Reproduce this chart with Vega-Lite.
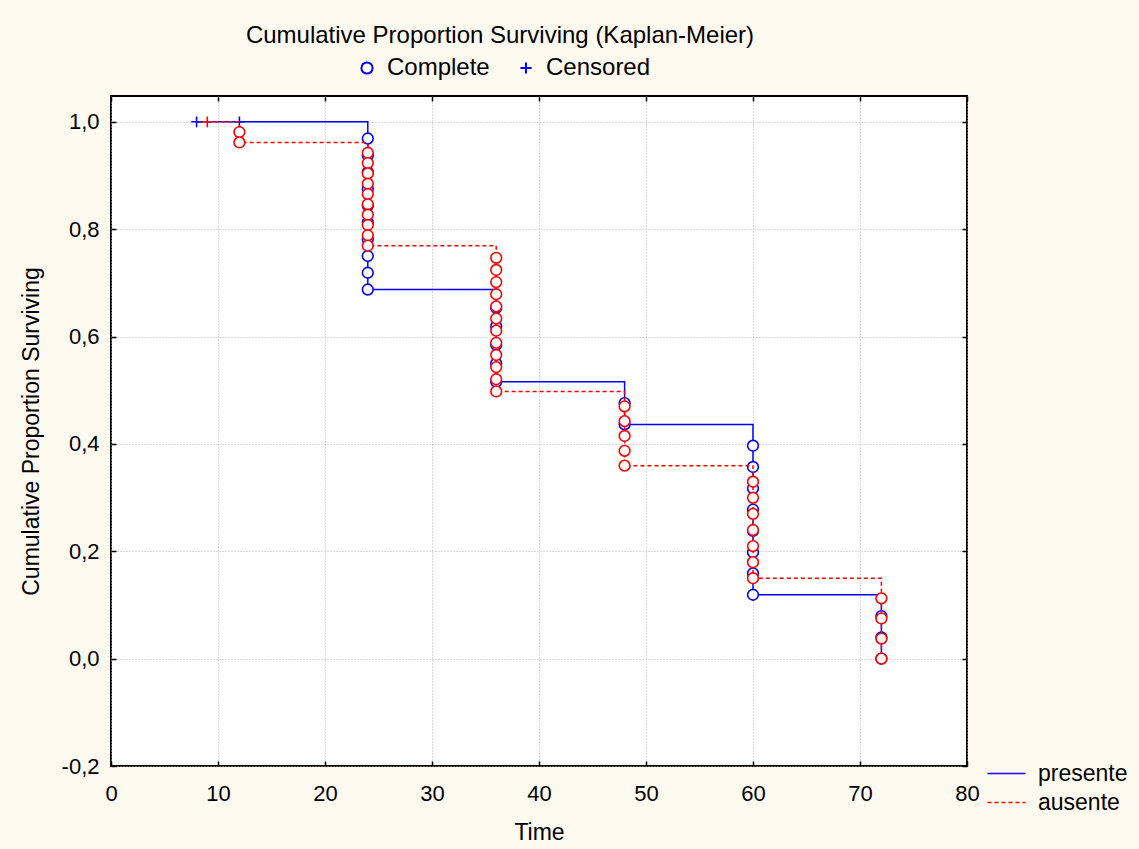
{
  "$schema": "https://vega.github.io/schema/vega-lite/v6.json",
  "width": 856,
  "height": 670,
  "autosize": {"type": "none"},
  "padding": {"left": 111, "top": 96, "right": 172, "bottom": 83},
  "background": "#FFFAF0",
  "config": {
    "font": "Liberation Sans",
    "view": {"fill": "white", "stroke": "black", "strokeWidth": 2},
    "axis": {
      "labelFont": "Liberation Sans",
      "labelFontSize": 22,
      "labelColor": "black",
      "titleFont": "Liberation Sans",
      "titleFontSize": 23,
      "titleFontWeight": "normal",
      "titleColor": "black",
      "tickColor": "black",
      "tickWidth": 1.5,
      "domain": false,
      "gridColor": "#b4b4b4",
      "gridDash": [1, 2],
      "gridWidth": 1
    },
    "legend": {
      "labelFont": "Liberation Sans",
      "labelFontSize": 23,
      "labelColor": "black",
      "padding": 0
    }
  },
  "title": {
    "text": "Cumulative Proportion Surviving (Kaplan-Meier)",
    "font": "Liberation Sans",
    "fontSize": 24,
    "fontWeight": "normal",
    "color": "black",
    "anchor": "middle",
    "frame": "group",
    "dx": -39,
    "offset": 8
  },
  "datasets": {
    "curve": [
      {"group": "presente", "time": 8, "surv": 1},
      {"group": "presente", "time": 24, "surv": 0.6875},
      {"group": "presente", "time": 36, "surv": 0.5156},
      {"group": "presente", "time": 48, "surv": 0.4363},
      {"group": "presente", "time": 60, "surv": 0.119},
      {"group": "presente", "time": 72, "surv": 0},
      {"group": "ausente", "time": 9, "surv": 1},
      {"group": "ausente", "time": 12, "surv": 0.9615},
      {"group": "ausente", "time": 24, "surv": 0.7692},
      {"group": "ausente", "time": 36, "surv": 0.4977},
      {"group": "ausente", "time": 48, "surv": 0.3595},
      {"group": "ausente", "time": 60, "surv": 0.1498},
      {"group": "ausente", "time": 72, "surv": 0}
    ],
    "events": [
      {"group": "presente", "status": "Censored", "time": 8, "surv": 1},
      {"group": "presente", "status": "Censored", "time": 12, "surv": 1},
      {"group": "presente", "status": "Complete", "time": 24, "surv": 0.9688},
      {"group": "presente", "status": "Complete", "time": 24, "surv": 0.9375},
      {"group": "presente", "status": "Complete", "time": 24, "surv": 0.9063},
      {"group": "presente", "status": "Complete", "time": 24, "surv": 0.875},
      {"group": "presente", "status": "Complete", "time": 24, "surv": 0.8438},
      {"group": "presente", "status": "Complete", "time": 24, "surv": 0.8125},
      {"group": "presente", "status": "Complete", "time": 24, "surv": 0.7813},
      {"group": "presente", "status": "Complete", "time": 24, "surv": 0.75},
      {"group": "presente", "status": "Complete", "time": 24, "surv": 0.7188},
      {"group": "presente", "status": "Complete", "time": 24, "surv": 0.6875},
      {"group": "presente", "status": "Complete", "time": 36, "surv": 0.6531},
      {"group": "presente", "status": "Complete", "time": 36, "surv": 0.6188},
      {"group": "presente", "status": "Complete", "time": 36, "surv": 0.5844},
      {"group": "presente", "status": "Complete", "time": 36, "surv": 0.55},
      {"group": "presente", "status": "Complete", "time": 36, "surv": 0.5156},
      {"group": "presente", "status": "Complete", "time": 48, "surv": 0.476},
      {"group": "presente", "status": "Complete", "time": 48, "surv": 0.4363},
      {"group": "presente", "status": "Complete", "time": 60, "surv": 0.3966},
      {"group": "presente", "status": "Complete", "time": 60, "surv": 0.357},
      {"group": "presente", "status": "Complete", "time": 60, "surv": 0.3173},
      {"group": "presente", "status": "Complete", "time": 60, "surv": 0.2776},
      {"group": "presente", "status": "Complete", "time": 60, "surv": 0.238},
      {"group": "presente", "status": "Complete", "time": 60, "surv": 0.1983},
      {"group": "presente", "status": "Complete", "time": 60, "surv": 0.1587},
      {"group": "presente", "status": "Complete", "time": 60, "surv": 0.119},
      {"group": "presente", "status": "Complete", "time": 72, "surv": 0.0793},
      {"group": "presente", "status": "Complete", "time": 72, "surv": 0.0397},
      {"group": "presente", "status": "Complete", "time": 72, "surv": 0},
      {"group": "ausente", "status": "Censored", "time": 9, "surv": 1},
      {"group": "ausente", "status": "Complete", "time": 12, "surv": 0.9808},
      {"group": "ausente", "status": "Complete", "time": 12, "surv": 0.9615},
      {"group": "ausente", "status": "Complete", "time": 24, "surv": 0.9423},
      {"group": "ausente", "status": "Complete", "time": 24, "surv": 0.9231},
      {"group": "ausente", "status": "Complete", "time": 24, "surv": 0.9038},
      {"group": "ausente", "status": "Complete", "time": 24, "surv": 0.8846},
      {"group": "ausente", "status": "Complete", "time": 24, "surv": 0.8654},
      {"group": "ausente", "status": "Complete", "time": 24, "surv": 0.8462},
      {"group": "ausente", "status": "Complete", "time": 24, "surv": 0.8269},
      {"group": "ausente", "status": "Complete", "time": 24, "surv": 0.8077},
      {"group": "ausente", "status": "Complete", "time": 24, "surv": 0.7885},
      {"group": "ausente", "status": "Complete", "time": 24, "surv": 0.7692},
      {"group": "ausente", "status": "Complete", "time": 36, "surv": 0.7466},
      {"group": "ausente", "status": "Complete", "time": 36, "surv": 0.724},
      {"group": "ausente", "status": "Complete", "time": 36, "surv": 0.7014},
      {"group": "ausente", "status": "Complete", "time": 36, "surv": 0.6787},
      {"group": "ausente", "status": "Complete", "time": 36, "surv": 0.6561},
      {"group": "ausente", "status": "Complete", "time": 36, "surv": 0.6335},
      {"group": "ausente", "status": "Complete", "time": 36, "surv": 0.6109},
      {"group": "ausente", "status": "Complete", "time": 36, "surv": 0.5882},
      {"group": "ausente", "status": "Complete", "time": 36, "surv": 0.5656},
      {"group": "ausente", "status": "Complete", "time": 36, "surv": 0.543},
      {"group": "ausente", "status": "Complete", "time": 36, "surv": 0.5204},
      {"group": "ausente", "status": "Complete", "time": 36, "surv": 0.4977},
      {"group": "ausente", "status": "Complete", "time": 48, "surv": 0.47},
      {"group": "ausente", "status": "Complete", "time": 48, "surv": 0.4424},
      {"group": "ausente", "status": "Complete", "time": 48, "surv": 0.4148},
      {"group": "ausente", "status": "Complete", "time": 48, "surv": 0.3871},
      {"group": "ausente", "status": "Complete", "time": 48, "surv": 0.3595},
      {"group": "ausente", "status": "Complete", "time": 60, "surv": 0.3295},
      {"group": "ausente", "status": "Complete", "time": 60, "surv": 0.2996},
      {"group": "ausente", "status": "Complete", "time": 60, "surv": 0.2696},
      {"group": "ausente", "status": "Complete", "time": 60, "surv": 0.2396},
      {"group": "ausente", "status": "Complete", "time": 60, "surv": 0.2097},
      {"group": "ausente", "status": "Complete", "time": 60, "surv": 0.1797},
      {"group": "ausente", "status": "Complete", "time": 60, "surv": 0.1498},
      {"group": "ausente", "status": "Complete", "time": 72, "surv": 0.1123},
      {"group": "ausente", "status": "Complete", "time": 72, "surv": 0.0749},
      {"group": "ausente", "status": "Complete", "time": 72, "surv": 0.0374},
      {"group": "ausente", "status": "Complete", "time": 72, "surv": 0}
    ]
  },
  "layer": [
    {
      "data": {"name": "curve"},
      "transform": [{"filter": "datum.group === 'presente'"}],
      "mark": {"type": "line", "interpolate": "step-after", "strokeWidth": 1.5, "clip": true},
      "encoding": {
        "x": {"field": "time", "type": "quantitative",
          "scale": {"domain": [0, 80], "nice": false, "zero": false},
          "axis": {"orient": "bottom", "title": "Time", "values": [0, 10, 20, 30, 40, 50, 60, 70, 80],
            "tickSize": -5, "labelPadding": 22, "grid": true, "titlePadding": 17, "labelFlush": false}},
        "y": {"field": "surv", "type": "quantitative",
          "scale": {"domain": [-0.2, 1.048], "nice": false, "zero": false},
          "axis": {"orient": "left", "title": "Cumulative Proportion Surviving", "values": [-0.2, 0, 0.2, 0.4, 0.6, 0.8, 1.0],
            "tickSize": -5, "labelPadding": 17, "grid": true, "titlePadding": 18, "labelFlush": false,
            "labelExpr": "replace(replace(format(datum.value, '.1f'), '.', ','), '\u2212', '-')"}},
        "color": {"field": "group", "type": "nominal",
          "scale": {"domain": ["presente", "ausente"], "range": ["#0000FF", "#FF0000"]},
          "legend": {"title": null, "orient": "none", "legendX": 884, "legendY": 666, "symbolType": "M-1.9,0L1.9,0",
            "symbolSize": 400, "symbolStrokeWidth": 1.5, "labelOffset": 20, "rowPadding": 5}},
        "strokeDash": {"field": "group", "type": "nominal",
          "scale": {"domain": ["presente", "ausente"], "range": [[1, 0], [4, 3]]},
          "legend": {"title": null, "orient": "none", "legendX": 884, "legendY": 666, "symbolType": "M-1.9,0L1.9,0",
            "symbolSize": 400, "symbolStrokeWidth": 1.5, "labelOffset": 20, "rowPadding": 5}}
      }
    },
    {
      "data": {"name": "events"},
      "transform": [{"filter": "datum.group === 'presente'"}],
      "mark": {"type": "point", "filled": false, "fill": "white", "fillOpacity": 1, "stroke": "#0000FF", "strokeWidth": 1.6, "opacity": 1, "size": 115},
      "encoding": {
        "x": {"field": "time", "type": "quantitative",
          "axis": {"orient": "top", "title": null, "labels": false, "grid": false, "tickSize": -5, "values": [0, 10, 20, 30, 40, 50, 60, 70, 80]}},
        "y": {"field": "surv", "type": "quantitative",
          "axis": {"orient": "right", "title": null, "labels": false, "grid": false, "tickSize": -5, "values": [-0.2, 0, 0.2, 0.4, 0.6, 0.8, 1.0]}},
        "shape": {"field": "status", "type": "nominal",
          "scale": {"domain": ["Complete", "Censored"], "range": ["circle", "M-1,0L1,0M0,-1L0,1"]},
          "legend": {"title": null, "orient": "none", "direction": "horizontal", "legendX": 244, "legendY": -40,
            "symbolSize": 125, "symbolStrokeWidth": 2,
            "labelOffset": 8, "columnPadding": 24, "labelFontSize": 24,
            "encode": {"symbols": {"stroke": {"value": "#0000FF"}, "fill": {"value": "white"}, "strokeWidth": {"value": 2}, "opacity": {"value": 1}}}}}
      }
    },
    {
      "data": {"name": "curve"},
      "transform": [{"filter": "datum.group === 'ausente'"}],
      "mark": {"type": "line", "interpolate": "step-after", "strokeWidth": 1.5, "clip": true},
      "encoding": {
        "x": {"field": "time", "type": "quantitative", "axis": null},
        "y": {"field": "surv", "type": "quantitative", "axis": null},
        "color": {"field": "group", "type": "nominal",
          "legend": {"title": null, "orient": "none", "legendX": 884, "legendY": 666, "symbolType": "M-1.9,0L1.9,0",
            "symbolSize": 400, "symbolStrokeWidth": 1.5, "labelOffset": 20, "rowPadding": 5}},
        "strokeDash": {"field": "group", "type": "nominal",
          "legend": {"title": null, "orient": "none", "legendX": 884, "legendY": 666, "symbolType": "M-1.9,0L1.9,0",
            "symbolSize": 400, "symbolStrokeWidth": 1.5, "labelOffset": 20, "rowPadding": 5}}
      }
    },
    {
      "data": {"name": "events"},
      "transform": [{"filter": "datum.group === 'ausente'"}],
      "mark": {"type": "point", "filled": false, "fill": "white", "fillOpacity": 1, "stroke": "#FF0000", "strokeWidth": 1.6, "opacity": 1, "size": 115},
      "encoding": {
        "x": {"field": "time", "type": "quantitative", "axis": null},
        "y": {"field": "surv", "type": "quantitative", "axis": null},
        "shape": {"field": "status", "type": "nominal",
          "legend": {"title": null, "orient": "none", "direction": "horizontal", "legendX": 244, "legendY": -40,
            "symbolSize": 125, "symbolStrokeWidth": 2,
            "labelOffset": 8, "columnPadding": 24, "labelFontSize": 24,
            "encode": {"symbols": {"stroke": {"value": "#0000FF"}, "fill": {"value": "white"}, "strokeWidth": {"value": 2}, "opacity": {"value": 1}}}}}
      }
    }
  ],
  "resolve": {"axis": {"x": "independent", "y": "independent"}}
}
